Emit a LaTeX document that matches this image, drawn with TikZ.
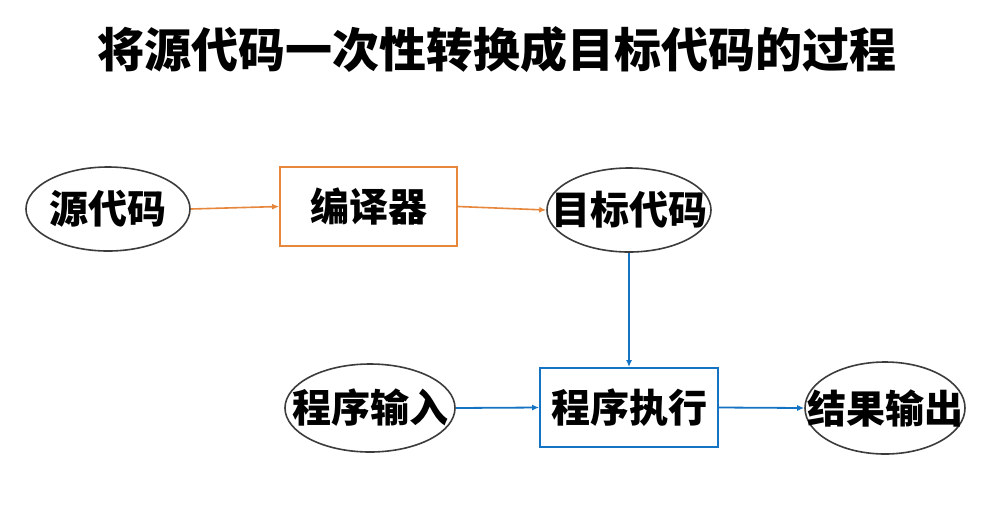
\documentclass[tikz,border=0pt]{standalone}
\usepackage{fontspec}
\newfontfamily\cjk{Noto Sans CJK SC}
\usetikzlibrary{shapes.geometric,arrows.meta}
\definecolor{boxorange}{RGB}{230,135,60}
\definecolor{boxblue}{RGB}{20,115,195}
\definecolor{ellgray}{RGB}{60,60,60}
\tikzset{
  ell/.style={ellipse,draw=ellgray,line width=1.6pt,minimum width=164pt,minimum height=84pt,inner sep=0pt},
  lbl/.style={font=\cjk\bfseries\fontsize{39}{42}\selectfont,text=black},
  obox/.style={rectangle,draw=boxorange,line width=1.8pt,minimum width=177pt,minimum height=79pt,inner sep=0pt},
  bbox/.style={rectangle,draw=boxblue,line width=1.8pt,minimum width=178pt,minimum height=79pt,inner sep=0pt},
  oarr/.style={draw=boxorange,line width=1.6pt,-{Latex[length=7pt,width=6pt]}},
  barr/.style={draw=boxblue,line width=1.8pt,-{Latex[length=7pt,width=6pt]}},
}
\begin{document}
\begin{tikzpicture}[x=1pt,y=-1pt]
\useasboundingbox[fill=white] (0,0) rectangle (1007,507);
\node[font=\cjk\bfseries\fontsize{47}{50}\selectfont] (title) at (497,50) {将源代码一次性转换成目标代码的过程};
\node[ell,label={[lbl]center:源代码}] (src) at (108,209) {};
\node[obox] (comp) at (368.5,206.5) {};
\node[lbl] (compt) at (comp.center) {编译器};
\node[ell,label={[lbl]center:目标代码}] (tgt) at (629,210) {};
\node[bbox] (exec) at (629,407.5) {};
\node[lbl] (exect) at (exec.center) {程序执行};
\node[ell,minimum width=170pt,minimum height=88pt,label={[lbl]center:程序输入}] (inp) at (370,408) {};
\node[ell,minimum width=160pt,minimum height=92pt,label={[lbl]center:结果输出}] (out) at (885,408) {};
\draw[oarr] (src.east) -- (comp.west);
\draw[oarr] (comp.east) -- (tgt.west);
\draw[barr] (tgt.south) -- (exec.north);
\draw[barr] (inp.east) -- (exec.west);
\draw[barr] (exec.east) -- (out.west);
\end{tikzpicture}
\end{document}
